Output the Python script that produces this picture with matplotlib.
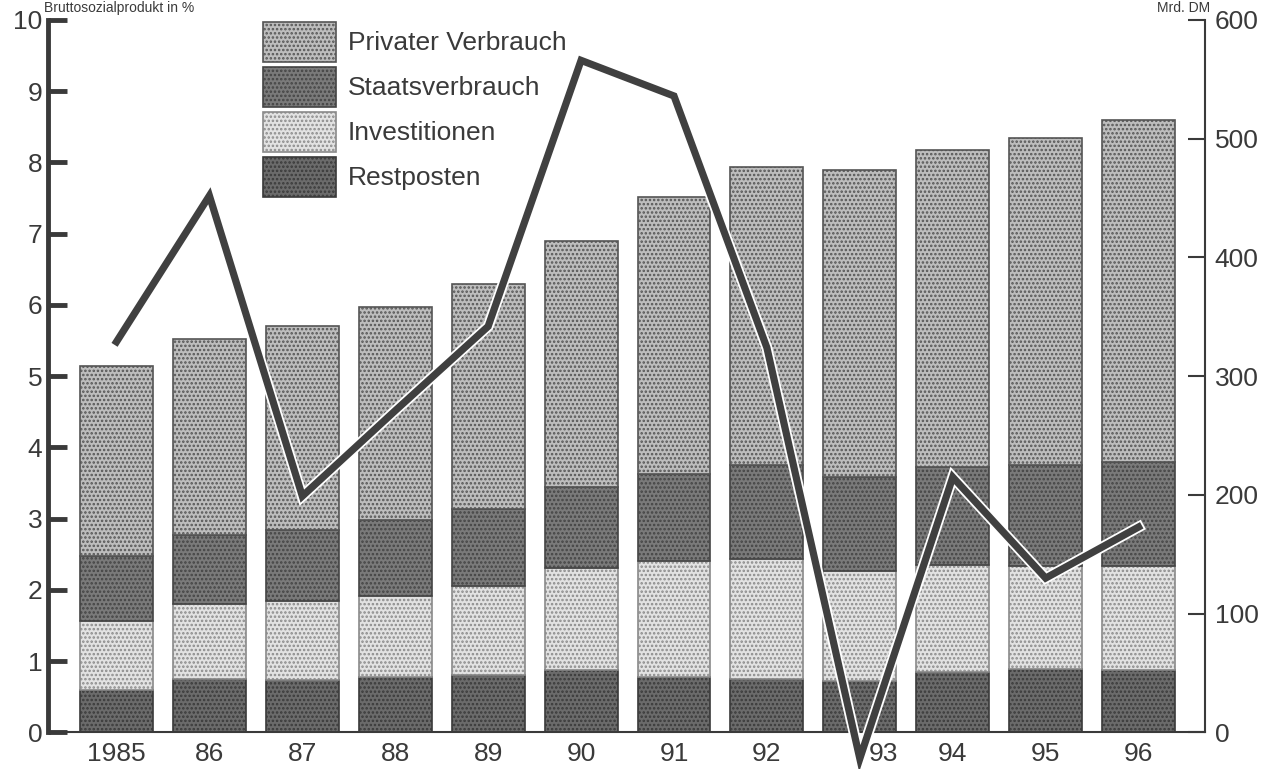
import numpy as np
import matplotlib
matplotlib.use("Agg")
import matplotlib.pyplot as plt
import matplotlib.patheffects as pe

plt.rcParams['font.family'] = ['Liberation Sans', 'DejaVu Sans']
plt.rcParams['hatch.linewidth'] = 1.2

years = ["1985", "86", "87", "88", "89", "90", "91", "92", "93", "94", "95", "96"]

# Anteile in % des Bruttosozialprodukts (gestapelt)
restposten = [0.60, 0.75, 0.73, 0.78, 0.80, 0.88, 0.78, 0.75, 0.72, 0.85, 0.89, 0.88]
investitionen = [0.97, 1.06, 1.11, 1.14, 1.26, 1.43, 1.63, 1.68, 1.55, 1.50, 1.45, 1.46]
staatsverbrauch = [0.91, 0.96, 1.00, 1.06, 1.08, 1.14, 1.22, 1.32, 1.32, 1.37, 1.42, 1.45]
privater_verbrauch = [2.66, 2.75, 2.86, 2.99, 3.16, 3.45, 3.89, 4.18, 4.30, 4.46, 4.59, 4.81]

# Linie (rechte Achse)
linie = [329, 452, 199, 271, 342, 566, 536, 324, -22, 215, 130, 173]

x = np.arange(len(years))
dark = "#3a3a3a"
fs = 19

fig = plt.figure(figsize=(12.66, 7.69), dpi=100)
ax = fig.add_axes([48 / 1266, 0.0475, 1157 / 1266, 0.9265])

series = [
    ("Restposten", restposten, "#6b6b6b", "#3a3a3a"),
    ("Investitionen", investitionen, "#e2e2e2", "#8a8a8a"),
    ("Staatsverbrauch", staatsverbrauch, "#7a7a7a", "#444444"),
    ("Privater Verbrauch", privater_verbrauch, "#bdbdbd", "#555555"),
]
bottom = np.zeros(len(years))
handles = {}
for name, vals, fc, hc in series:
    b = ax.bar(x, vals, width=0.785, bottom=bottom, color=fc, edgecolor=hc,
               hatch="....", linewidth=1.2, label=name, zorder=2)
    handles[name] = b
    bottom = bottom + np.array(vals)

ax.set_xlim(-0.737, 11.715)
ax.set_ylim(0, 10)
ax.set_yticks(range(0, 11))
ax.set_xticks(x)
# "93" sits a bit to the right in the original, next to the line's tip
ax.set_xticklabels([y if i != 8 else "" for i, y in enumerate(years)])
ax.annotate(years[8], xy=(8, 0), xycoords=("data", "axes fraction"),
            xytext=(17, -7), textcoords="offset points", ha="center", va="top",
            fontsize=fs, color=dark)
ax.tick_params(axis='x', length=0, pad=7, labelsize=fs, labelcolor=dark)
ax.tick_params(axis='y', direction='in', length=14, width=3.5, pad=4,
               labelsize=fs, labelcolor=dark, color=dark)
for s in ["top", "right"]:
    ax.spines[s].set_visible(False)
ax.spines["left"].set_linewidth(3.5)
ax.spines["left"].set_color(dark)
ax.spines["bottom"].set_linewidth(1.5)
ax.spines["bottom"].set_color(dark)

ax2 = ax.twinx()
ax2.set_ylim(0, 600)
ax2.set_yticks(range(0, 601, 100))
ax2.plot(x, linie, color="#404040", linewidth=5.2, clip_on=False, zorder=5,
         solid_joinstyle='miter',
         path_effects=[pe.Stroke(linewidth=7.8, foreground="white"), pe.Normal()])
ax2.tick_params(axis='y', direction='in', length=12, width=1.5, pad=7,
                labelsize=fs, labelcolor=dark, color=dark)
for s in ["top", "left", "bottom"]:
    ax2.spines[s].set_visible(False)
ax2.spines["right"].set_linewidth(1.5)
ax2.spines["right"].set_color(dark)

order = ["Privater Verbrauch", "Staatsverbrauch", "Investitionen", "Restposten"]
fig.legend([handles[n] for n in order], order, loc="upper left",
           bbox_to_anchor=(263 / 1266, 1 - 22 / 769), frameon=False,
           fontsize=fs, handlelength=2.77, handleheight=1.95, labelspacing=0.19,
           handletextpad=0.45, borderpad=0, borderaxespad=0, labelcolor=dark)

# axis titles (cut off at the top edge in the scan)
fig.text(44 / 1266, 0.999, "Bruttosozialprodukt in %", fontsize=10, color=dark,
         ha="left", va="top")
fig.text(1210 / 1266, 0.999, "Mrd. DM", fontsize=10, color=dark,
         ha="right", va="top")

fig.savefig("out.png", dpi=100)
